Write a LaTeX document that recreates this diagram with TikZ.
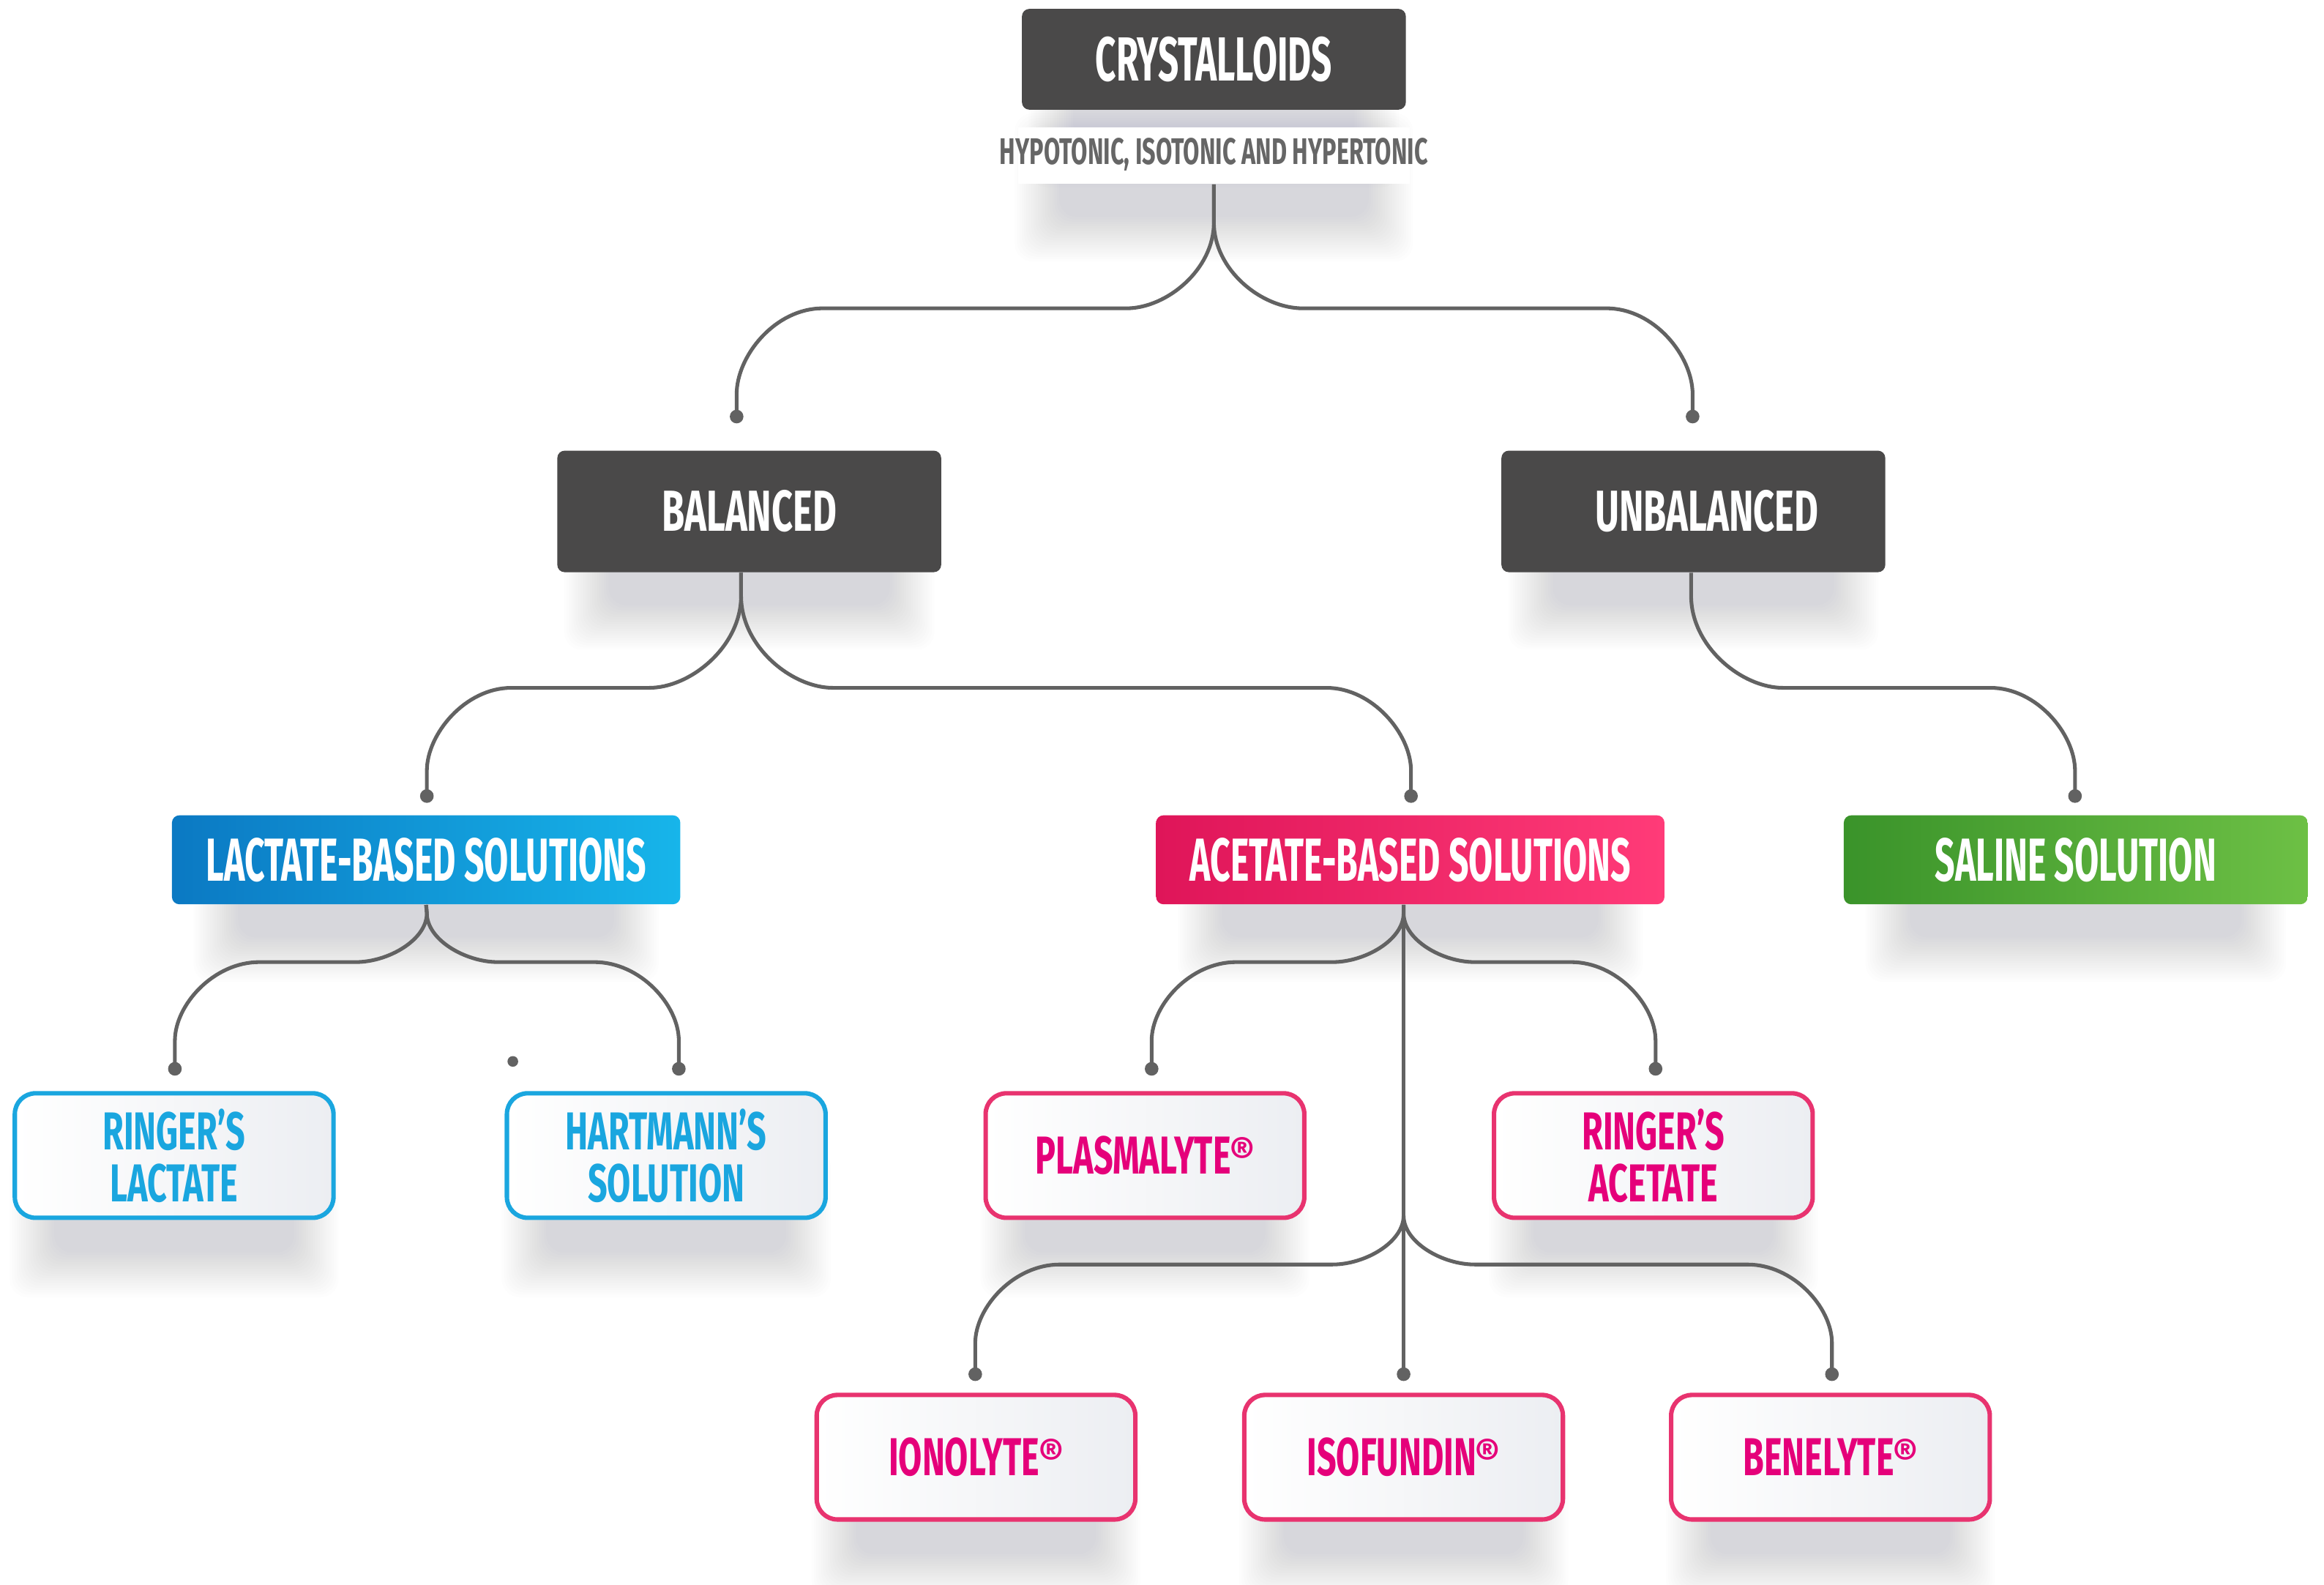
\documentclass[tikz,border=0pt]{standalone}
\usepackage{fontspec}
\usepackage{graphicx}
\newfontfamily\bebas{Fira Sans}[FakeStretch=0.58]
\newfontfamily\bebasw{Fira Sans}[FakeStretch=0.64]
\newfontfamily\regfont{Fira Sans}
\usetikzlibrary{calc,backgrounds}
\definecolor{darkbox}{HTML}{4A4949}
\definecolor{linegray}{HTML}{626262}
\definecolor{subgray}{HTML}{666666}
\definecolor{blueL}{HTML}{0B79C3}
\definecolor{blueR}{HTML}{17B5EA}
\definecolor{pinkL}{HTML}{DF1559}
\definecolor{pinkR}{HTML}{FF3B78}
\definecolor{greenL}{HTML}{3A932A}
\definecolor{greenR}{HTML}{6DC045}
\definecolor{leafblue}{HTML}{1AA6DF}
\definecolor{leafpink}{HTML}{E5007A}
\definecolor{leafpinkb}{HTML}{E8336F}
\definecolor{leafgrey}{HTML}{ECEEF2}
\definecolor{shadowc}{HTML}{3A4563}
\newcommand\reg{\kern-0.3pt\raisebox{2.6pt}{\regfont\bfseries\fontsize{13}{13}\selectfont ®}}
% soft shadow below a node: #1 = side inset (display px), #2 = node name
\newcommand\softshadow[2][30]{%
  \foreach \i in {0,...,19}{%
    \pgfmathsetmacro\shx{30*(19-\i)/19}%
    \fill[shadowc, opacity=0.009, rounded corners=6pt]
      ($(#2.south west)+(#1-\shx,-18-\shx)$) rectangle ($(#2.south east)+(-#1+\shx,22+\shx)$);
  }}
\tikzset{
  topbox/.style={fill=darkbox, rounded corners=2.5pt, text=white, inner sep=0pt, minimum width=129.5pt, minimum height=41pt, font=\bebasw\bfseries\fontsize{19.5}{19.5}\selectfont},
  catbox/.style={rounded corners=2.5pt, text=white, inner sep=0pt, minimum height=30pt, font=\bebas\bfseries\fontsize{20.5}{20.5}\selectfont},
  leafbox/.style={line width=1.5pt, rounded corners=7pt, inner sep=0pt, minimum width=107.5pt, minimum height=42pt, left color=white, right color=leafgrey, align=center, font=\bebasw\bfseries\fontsize{18}{17.5}\selectfont},
  blueleaf/.style={leafbox, draw=leafblue, text=leafblue},
  pinkleaf/.style={leafbox, draw=leafpinkb, text=leafpink},
  conn/.style={draw=linegray, line width=1.25pt},
  dotc/.style={fill=linegray}
}
\begin{document}
\begin{tikzpicture}[x=0.5pt,y=-0.5pt]
\useasboundingbox (0,0) rectangle (1568,1069);

% top
\node[topbox, minimum height=34pt, font=\bebas\bfseries\fontsize{21}{21}\selectfont] (crys) at (819,40) {CRYSTALLOIDS};
\node[fill=white, minimum width=132pt, minimum height=19pt, inner sep=0pt] (subbox) at (819,105) {};
\node[text=subgray, inner sep=0pt, font=\bebasw\bfseries\fontsize{12.5}{12.5}\selectfont] (sub) at (819,104) {HYPOTONIC, ISOTONIC AND HYPERTONIC};

% level 1
\node[topbox] (bal) at (505.5,345) {BALANCED};
\node[topbox] (unbal) at (1142.5,345) {\hspace*{9pt}UNBALANCED};

% level 2
\node[catbox, minimum width=171.5pt, left color=blueL, right color=blueR] (lact) at (287.5,580) {LACTATE-BASED SOLUTIONS};
\node[catbox, minimum width=171.5pt, left color=pinkL, right color=pinkR] (acet) at (951.5,580) {ACETATE-BASED SOLUTIONS};
\node[catbox, minimum width=156.5pt, left color=greenL, right color=greenR] (sal) at (1400.5,580) {SALINE SOLUTION};

% leaves
\node[blueleaf] (rl) at (117.5,779.5) {RINGER’S\\LACTATE};
\node[blueleaf] (hs) at (449.5,779.5) {HARTMANN’S\\SOLUTION};
\node[pinkleaf] (pl) at (772.5,779.5) {PLASMALYTE\reg};
\node[pinkleaf] (ra) at (1115.5,779.5) {RINGER’S\\ACETATE};
\node[pinkleaf] (io) at (658.5,983) {IONOLYTE\reg};
\node[pinkleaf] (is) at (947,983) {ISOFUNDIN\reg};
\node[pinkleaf] (be) at (1235,983) {BENELYTE\reg};

% shadows and background
\begin{scope}[on background layer]
  \fill[white] (0,0) rectangle (1568,1069);
  \softshadow[35]{crys}
  \softshadow[28]{subbox}
  \softshadow[35]{bal}
  \softshadow[35]{unbal}
  \softshadow[45]{lact}
  \softshadow[45]{acet}
  \softshadow[45]{sal}
  \foreach \n in {rl,hs,pl,ra,io,is,be} {\softshadow[28]{\n}}
\end{scope}

% connector coordinates
\coordinate (s0) at (subbox.south);
\coordinate (s1) at ($(bal.south)+(-5.5,0)$);
\coordinate (s2) at ($(unbal.south)+(-1.5,0)$);
\coordinate (s3) at (lact.south);
\coordinate (s4) at ($(acet.south)+(-4.5,0)$);
\coordinate (d-bal) at (497,281);
\coordinate (d-unbal) at (1142,281);
\coordinate (d-lact) at (288,537);
\coordinate (d-acet) at (952,537);
\coordinate (d-sal) at (1400,537);
\coordinate (d-rl) at (118,721);
\coordinate (d-hs) at (458,721);
\coordinate (d-pl) at (777,721);
\coordinate (d-ra) at (1117,721);
\coordinate (d-io) at (658,927);
\coordinate (d-is) at (947,927);
\coordinate (d-be) at (1236,927);
\coordinate (stray) at (346,716);

% level 1 connectors
\draw[conn] (s0) -- (819,150) .. controls (819,182) and (787,208) .. (760,208) -- (555,208) .. controls (523,208) and (497,240) .. (497,266) -- (d-bal);
\draw[conn] (s0) -- (819,150) .. controls (819,182) and (851,208) .. (879,208) -- (1084,208) .. controls (1116,208) and (1142,240) .. (1142,266) -- (d-unbal);
% level 2 connectors
\draw[conn] (s1) -- (500,402) .. controls (500,436) and (466,464) .. (438,464) -- (345,464) .. controls (314,464) and (288,495) .. (288,520) -- (d-lact);
\draw[conn] (s1) -- (500,402) .. controls (500,436) and (534,464) .. (562,464) -- (895,464) .. controls (926,464) and (952,495) .. (952,520) -- (d-acet);
\draw[conn] (s2) -- (1141,402) .. controls (1141,436) and (1175,464) .. (1203,464) -- (1343,464) .. controls (1374,464) and (1400,495) .. (1400,520) -- (d-sal);
% level 3 connectors
\draw[conn] (s3) -- (288,616) .. controls (288,634) and (262,649) .. (240,649) -- (175,649) .. controls (144,649) and (118,678) .. (118,702) -- (d-rl);
\draw[conn] (s3) -- (288,616) .. controls (288,634) and (314,649) .. (336,649) -- (401,649) .. controls (432,649) and (458,678) .. (458,702) -- (d-hs);
\draw[conn] (s4) -- (d-is);
\draw[conn] (s4) -- (947,616) .. controls (947,634) and (921,649) .. (899,649) -- (834,649) .. controls (803,649) and (777,678) .. (777,702) -- (d-pl);
\draw[conn] (s4) -- (947,616) .. controls (947,634) and (973,649) .. (995,649) -- (1060,649) .. controls (1091,649) and (1117,678) .. (1117,702) -- (d-ra);
\draw[conn] (947,820) .. controls (947,838) and (921,853) .. (899,853) -- (715,853) .. controls (684,853) and (658,882) .. (658,906) -- (d-io);
\draw[conn] (947,820) .. controls (947,838) and (973,853) .. (995,853) -- (1179,853) .. controls (1210,853) and (1236,882) .. (1236,906) -- (d-be);

% dots
\foreach \d in {d-bal,d-unbal,d-lact,d-acet,d-sal,d-rl,d-hs,d-pl,d-ra,d-io,d-is,d-be}
  \fill[dotc] (\d) circle (2.3pt);
\fill[dotc] (stray) circle (1.8pt);
\end{tikzpicture}
\end{document}
